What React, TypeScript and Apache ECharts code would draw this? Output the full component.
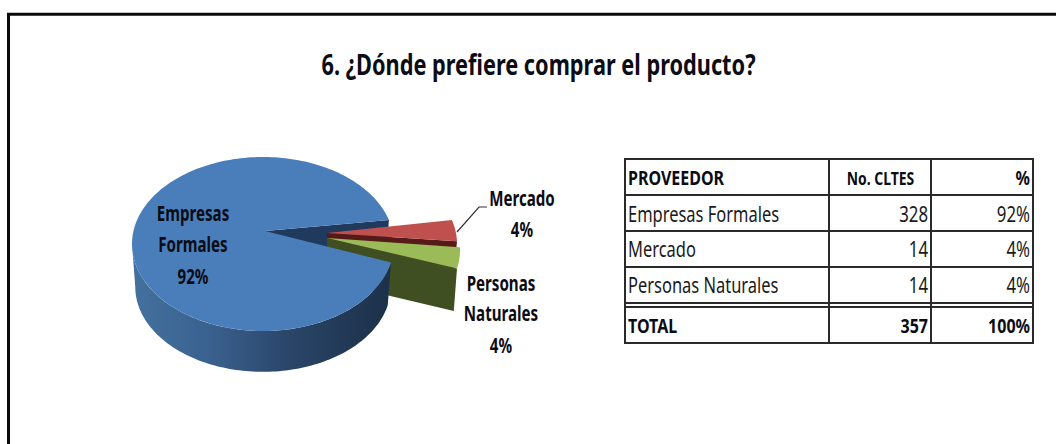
import React, { useEffect, useRef } from "react";
import * as echarts from "echarts";

const titleText = "6. ¿Dónde prefiere comprar el producto?";
const categories = ["Empresas Formales", "Mercado", "Personas Naturales"];
const clients = [328, 14, 14];
const percents = ["92%", "4%", "4%"];
const headers = ["PROVEEDOR", "No. CLTES", "%"];
const totalRow = ["TOTAL", "357", "100%"];

const FONT = '"Noto Sans", sans-serif';
const NARROW = 0.8;
const START = 12.3;
const RX = 131;
const RY = 87;
const DEPTH = 43;
const BOTTOM_K = 0.975;

const sliceStyle = [
  { cx: 263, cy: 244, ax: 265, ay: 231, top: "#4a7ebb", wall: "#1f3a5c" },
  { cx: 326, cy: 244, ax: 327, ay: 233, top: "#c0504d", wall: "#561a18" },
  { cx: 329, cy: 250, ax: 327, ay: 238, top: "#9bbb59", wall: "#3f4f22" },
];
const labelAnchors = [
  { x: 193, ys: [214, 245, 277], lines: 2 },
  { x: 522, ys: [199, 230], lines: 1 },
  { x: 501, ys: [284, 314, 346], lines: 2 },
];

const rad = (d: number) => (d * Math.PI) / 180;
const sumValues = clients.reduce((a, b) => a + b, 0);

function sliceAngles(i: number) {
  let a = START;
  for (let k = 0; k < i; k++) a += (clients[k] / sumValues) * 360;
  return [a, a + (clients[i] / sumValues) * 360];
}
function rim(s: any, deg: number): number[] {
  return [s.cx + RX * Math.cos(rad(deg)), s.cy + RY * Math.sin(rad(deg))];
}
function low(s: any, deg: number): number[] {
  return [
    s.cx + RX * BOTTOM_K * Math.cos(rad(deg)),
    s.cy + DEPTH + RY * BOTTOM_K * Math.sin(rad(deg)),
  ];
}
function arcPts(fn: (d: number) => number[], a: number, b: number) {
  const n = Math.max(2, Math.ceil(Math.abs(b - a) / 1.5));
  const pts: number[][] = [];
  for (let k = 0; k <= n; k++) pts.push(fn(a + ((b - a) * k) / n));
  return pts;
}
function poly(points: number[][], fill: any) {
  return { type: "polygon", shape: { points }, style: { fill, stroke: "none" } };
}
function txt(x: number, y: number, text: string, size: number, opts: any = {}) {
  return {
    type: "text",
    x,
    y: y - 1.5,
    scaleX: opts.scale ?? NARROW,
    style: {
      text,
      fill: opts.fill ?? "#0c0c14",
      font: `${opts.bold === false ? "normal" : "bold"} ${size}px ${FONT}`,
      align: opts.align ?? "center",
      verticalAlign: "middle",
    },
  };
}
function cutWall(i: number) {
  const s = sliceStyle[i];
  const end = sliceAngles(i)[1];
  return poly([[s.ax, s.ay], rim(s, end), low(s, end), [s.ax, s.ay + DEPTH]], s.wall);
}
function topFace(i: number) {
  const s = sliceStyle[i];
  const [a, b] = sliceAngles(i);
  return poly([[s.ax, s.ay], ...arcPts((d) => rim(s, d), a, b)], s.top);
}
function sliceLabel(i: number) {
  const a = labelAnchors[i];
  const words = a.lines === 2 ? categories[i].split(" ") : [categories[i]];
  const rows = [...words, percents[i]];
  return rows.map((t, k) => txt(a.x, a.ys[k], t, 21, { scale: 0.72 }));
}

const backLayer = (p: any) => {
  const idx = p.dataIndex;
  if (idx === 0) return { type: "group", children: [cutWall(0)] };
  return {
    type: "group",
    children: [cutWall(idx), topFace(idx), ...sliceLabel(idx)],
  };
};
const frontLayer = (p: any) => {
  const idx = p.dataIndex;
  if (idx !== 0) return { type: "group", children: [] };
  const s = sliceStyle[0];
  const a = sliceAngles(0)[0];
  const upper = arcPts((d) => rim(s, d), a, 180);
  const lower = arcPts((d) => low(s, d), 180, a);
  const wallFill = new echarts.graphic.LinearGradient(0, 0, 1, 0, [
    { offset: 0, color: "#44719f" },
    { offset: 0.3, color: "#3a618f" },
    { offset: 0.6, color: "#2a4669" },
    { offset: 1, color: "#1c3049" },
  ]);
  return {
    type: "group",
    children: [poly([...upper, ...lower], wallFill), topFace(0), ...sliceLabel(0)],
  };
};

function tableGraphics() {
  const L = 625, C1 = 829, C2 = 931, R = 1033;
  const ys = [159, 195, 231, 267, 303, 307, 343];
  const line = (x1: number, y1: number, x2: number, y2: number) => ({
    type: "line",
    shape: { x1, y1, x2, y2 },
    style: { stroke: "#2a2a2a", lineWidth: 2 },
  });
  const out: any[] = [];
  ys.forEach((y) => out.push(line(L - 1, y, R + 1, y)));
  [L, C1, C2, R].forEach((x) => out.push(line(x, 159, x, 343)));
  out.push(txt(628, 179, headers[0], 20, { align: "left" }));
  out.push(txt(880.5, 180, headers[1], 17, { scale: 0.82 }));
  out.push(txt(1030, 179, headers[2], 20, { align: "right" }));
  const rowY = [216, 251, 287];
  categories.forEach((c, i) => {
    out.push(txt(628, rowY[i], c, 21, { align: "left", bold: false, fill: "#1a1a1a", scale: 0.785 }));
    out.push(txt(928, rowY[i], String(clients[i]), 21, { align: "right", bold: false, fill: "#1a1a1a" }));
    out.push(txt(1030, rowY[i], percents[i], 21, { align: "right", bold: false, fill: "#1a1a1a" }));
  });
  out.push(txt(628, 327, totalRow[0], 20, { align: "left" }));
  out.push(txt(928, 327, totalRow[1], 20, { align: "right" }));
  out.push(txt(1030, 327, totalRow[2], 20, { align: "right" }));
  return out;
}

export default function App() {
  const ref = useRef<HTMLDivElement>(null);
  useEffect(() => {
    document.body.style.margin = "0";
    const chart = echarts.init(ref.current!, undefined, { renderer: "svg" });
    chart.setOption({
      animation: false,
      backgroundColor: "#ffffff",
      series: [
        { type: "custom", coordinateSystem: "none", data: clients, renderItem: backLayer, silent: true },
        { type: "custom", coordinateSystem: "none", data: clients, renderItem: frontLayer, silent: true },
      ],
      graphic: [
        { type: "line", shape: { x1: 7, y1: 14.3, x2: 1056, y2: 14.3 }, style: { stroke: "#0a0a0a", lineWidth: 3 } },
        { type: "line", shape: { x1: 8.5, y1: 14, x2: 8.5, y2: 444 }, style: { stroke: "#0a0a0a", lineWidth: 3 } },
        { type: "polyline", shape: { points: [[457, 232], [479, 207], [487, 207]] }, style: { stroke: "#333", lineWidth: 1.2, fill: "none" } },
        txt(538.5, 66, titleText, 29, { scale: 0.75 }),
        ...tableGraphics(),
      ],
    });
    return () => chart.dispose();
  }, []);
  return <div ref={ref} style={{ position: "fixed", left: 0, top: 0, width: 1056, height: 444 }} />;
}
